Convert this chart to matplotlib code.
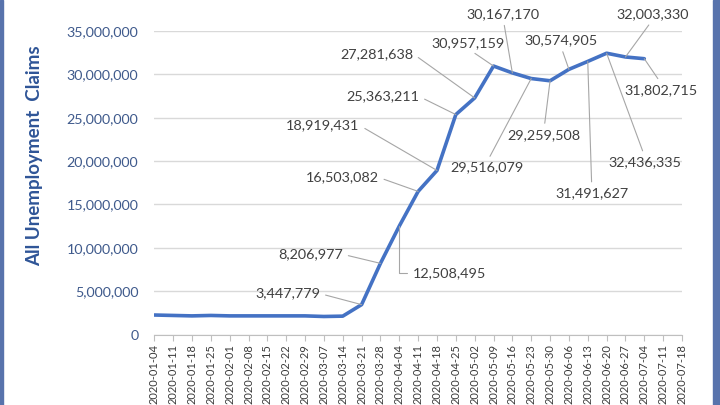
import matplotlib
matplotlib.use("Agg")
import matplotlib.pyplot as plt
from matplotlib.patches import Rectangle
from matplotlib.ticker import FuncFormatter

plt.rcParams['font.family'] = ['Lato', 'DejaVu Sans']

# weekly dates on the x axis (last two have no data yet)
weeks = ["2020-01-04", "2020-01-11", "2020-01-18", "2020-01-25", "2020-02-01",
         "2020-02-08", "2020-02-15", "2020-02-22", "2020-02-29", "2020-03-07",
         "2020-03-14", "2020-03-21", "2020-03-28", "2020-04-04", "2020-04-11",
         "2020-04-18", "2020-04-25", "2020-05-02", "2020-05-09", "2020-05-16",
         "2020-05-23", "2020-05-30", "2020-06-06", "2020-06-13", "2020-06-20",
         "2020-06-27", "2020-07-04", "2020-07-11", "2020-07-18"]

claims = [2250000, 2200000, 2150000, 2200000, 2150000, 2150000, 2150000,
          2150000, 2150000, 2080000, 2120000, 3447779, 8206977, 12508495,
          16503082, 18919431, 25363211, 27281638, 30957159, 30167170,
          29516079, 29259508, 30574905, 31491627, 32436335, 32003330,
          31802715]

yticks = [0, 5000000, 10000000, 15000000, 20000000, 25000000, 30000000, 35000000]

# label placement: (dx, dy) in pixels from point to text centre, and where the leader leaves the text
label_pos = {
    11: (-74, 11, (1, 0.5)),
    12: (-70, 9, (1, 0.5)),
    13: (50, -47, (0, 0.5)),
    14: (-76, 14, (1, 0.5)),
    15: (-114, 45, (1, 0.5)),
    16: (-73, 18, (1, 0.5)),
    17: (-98, 44, (1, 0.5)),
    18: (-25, 23, (0.5, 0)),
    19: (-9, 59, (0.5, 0)),
    20: (-44, -89, (0.5, 1)),
    21: (-6, -54, (0.5, 1)),
    22: (-8, 29, (0.5, 0)),
    23: (4, -132, (0.5, 1)),
    24: (38, -109, (0.5, 1)),
    25: (27, 43, (0.5, 0)),
    26: (17, -31, (0.5, 1)),
}

fig = plt.figure(figsize=(7.2, 4.05), dpi=100)
ax = fig.add_axes([0.2143, 0.174, 0.7329, 0.7495])

xs = list(range(len(claims)))
ax.plot(xs, claims, color="#4472C4", lw=2.6, solid_capstyle="round", zorder=3)

ax.set_xlim(0, len(weeks) - 1)
ax.set_ylim(0, 35000000)
ax.set_yticks(yticks)
ax.yaxis.set_major_formatter(FuncFormatter(lambda v, p: f"{int(v):,}"))
ax.set_xticks(range(len(weeks)))
ax.set_xticklabels(weeks, rotation=90, fontsize=8, color="#3A3A3A")
ax.tick_params(axis="y", length=0, pad=11.5, labelsize=10.3, labelcolor="#3F5A8C")
ax.tick_params(axis="x", length=4, color="#BFBFBF", pad=3)
ax.grid(axis="y", color="#D9D9D9", lw=1)
ax.set_axisbelow(True)
for s in ["top", "right", "left"]:
    ax.spines[s].set_visible(False)
ax.spines["bottom"].set_color("#BFBFBF")

ax.set_ylabel("All Unemployment  Claims", fontsize=13.5, fontweight="bold",
              color="#2F5597")
ax.yaxis.set_label_coords(-0.211, 0.59)

for i, (dx, dy, rp) in label_pos.items():
    conn = "angle,angleA=180,angleB=90,rad=0" if i == 13 else "arc3"
    ax.annotate(f"{claims[i]:,}", xy=(i, claims[i]), xytext=(dx, dy),
                textcoords="offset pixels", ha="center", va="center",
                fontsize=10.4, color="#404040",
                arrowprops=dict(arrowstyle="-", color="#A6A6A6", lw=0.8,
                                shrinkA=2, shrinkB=0, relpos=rp,
                                connectionstyle=conn))

# blue frame edges of the original slide
fig.patches.append(Rectangle((0, 0), 3 / 720, 1, transform=fig.transFigure,
                             color="#5873AC", zorder=0))
fig.patches.append(Rectangle((713 / 720, 0), 7 / 720, 1, transform=fig.transFigure,
                             color="#5873AC", zorder=0))

fig.savefig("out.png", dpi=100)
